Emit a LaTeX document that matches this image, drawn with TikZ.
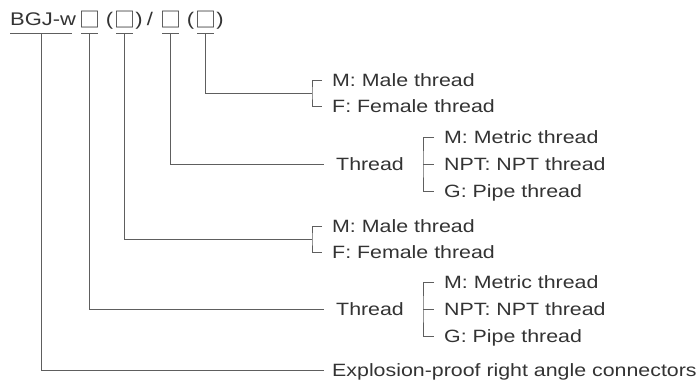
\documentclass[tikz,border=0pt]{standalone}
\usepackage{fontspec}
\setmainfont{Liberation Sans}[FakeStretch=1.2]
\newfontfamily\cjk{Noto Sans CJK SC}
\definecolor{ink}{HTML}{333333}
\definecolor{wire}{HTML}{5E5E5E}
\begin{document}
\begin{tikzpicture}[x=1pt,y=-1pt,
	lbl/.style={anchor=west,inner sep=0,text height=12.6pt,text depth=0pt,text=ink,font=\fontsize{17.8}{20}\selectfont},
	ttl/.style={anchor=base,inner sep=0,text=ink,font=\fontsize{18.3}{21}\selectfont},
	box/.style={ttl,font=\cjk\fontsize{21}{24}\selectfont},
	ln/.style={draw=wire,line width=1pt}]
	\useasboundingbox (0,0) rectangle (699,384);
	% code line
	\node[ttl,anchor=base west] (bgj) at (10,25) {BGJ-w};
	\foreach \n/\x in {1/89.5,2/124.5,3/170.5,4/205.5}
		\node[box] (b\n) at (\x,27) {□};
	\foreach \n/\x/\s in {1/109.5/(,2/139/),3/150/{/},4/190.5/(,5/220/)}
		\node[ttl] (p\n) at (\x,25) {\s};
	% underlines
	\foreach \n/\x/\w in {0/41/31,1/89.5/8.5,2/124.5/8.5,3/170.5/8.5,4/205.5/8.5}{
		\coordinate (u\n) at (\x,33);
		\draw[ln] ([xshift=-\w pt]u\n) -- ([xshift=\w pt]u\n);
	}
	% explanations
	\node[lbl] (aM) at (332,80) {M: Male thread};
	\node[lbl] (aF) at (332,106) {F: Female thread};
	\node[lbl] (thrB) at (336,164) {Thread};
	\node[lbl] (bM) at (444,137) {M: Metric thread};
	\node[lbl] (bN) at (444,164) {NPT: NPT thread};
	\node[lbl] (bG) at (444,191) {G: Pipe thread};
	\node[lbl] (cM) at (332,226) {M: Male thread};
	\node[lbl] (cF) at (332,252) {F: Female thread};
	\node[lbl] (thrD) at (336,309) {Thread};
	\node[lbl] (dM) at (444,282) {M: Metric thread};
	\node[lbl] (dN) at (444,309) {NPT: NPT thread};
	\node[lbl] (dG) at (444,336) {G: Pipe thread};
	\node[lbl] (expl) at (332,370) {Explosion-proof right angle connectors};
	\coordinate (brA) at (312,93);
	\coordinate (brC) at (312,239);
	% brackets
	\draw[ln] ([xshift=-10pt]aM.west) -| (brA) |- ([xshift=-10pt]aF.west);
	\draw[ln] ([xshift=-10pt]cM.west) -| (brC) |- ([xshift=-10pt]cF.west);
	\foreach \g in {b,d}{
		\draw[ln] ([xshift=-10pt]\g M.west) -| ([xshift=-21pt]\g N.west) |- ([xshift=-10pt]\g G.west);
		\draw[ln] ([xshift=-21pt]\g N.west) -- ([xshift=-10pt]\g N.west);
	}
	% leaders
	\draw[ln] (u4) |- (brA);
	\draw[ln] (u3) |- ([xshift=-12pt]thrB.west);
	\draw[ln] (u2) |- (brC);
	\draw[ln] (u1) |- ([xshift=-12pt]thrD.west);
	\draw[ln] (u0) |- ([xshift=-8pt]expl.west);
\end{tikzpicture}
\end{document}
